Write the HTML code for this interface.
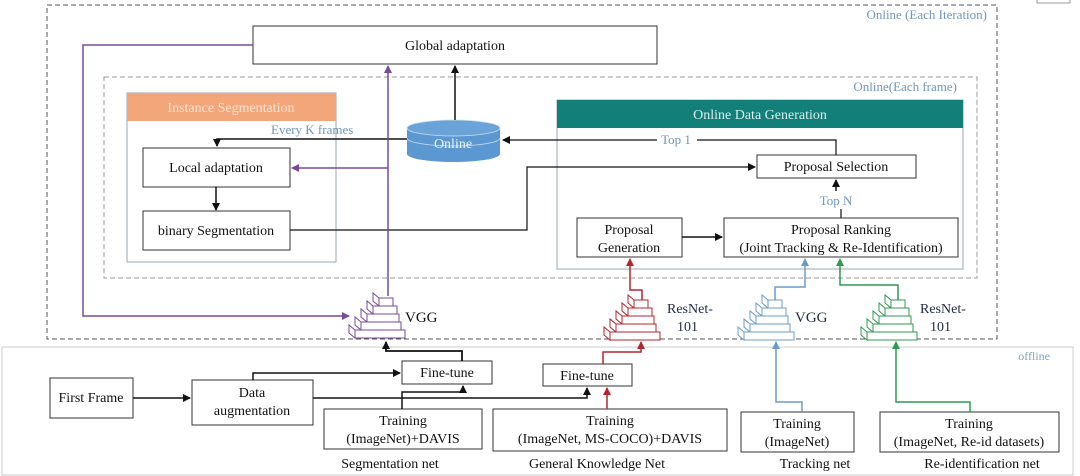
<!DOCTYPE html>
<html><head><meta charset="utf-8"><style>
html,body{margin:0;padding:0;background:#fff;}
svg{display:block;}
text{font-family:"Liberation Serif",serif;}
</style></head><body>
<svg width="1080" height="476" viewBox="0 0 1080 476" xmlns="http://www.w3.org/2000/svg">
<defs>
<marker id="ak" markerWidth="8" markerHeight="8" refX="7" refY="4" orient="auto" markerUnits="userSpaceOnUse"><path d="M0,0 L8,4 L0,8 z" fill="#111"/></marker>
<marker id="ap" markerWidth="8" markerHeight="8" refX="7" refY="4" orient="auto" markerUnits="userSpaceOnUse"><path d="M0,0 L8,4 L0,8 z" fill="#7a4a9a"/></marker>
<marker id="ar" markerWidth="8" markerHeight="8" refX="7" refY="4" orient="auto" markerUnits="userSpaceOnUse"><path d="M0,0 L8,4 L0,8 z" fill="#b3262e"/></marker>
<marker id="ab" markerWidth="8" markerHeight="8" refX="7" refY="4" orient="auto" markerUnits="userSpaceOnUse"><path d="M0,0 L8,4 L0,8 z" fill="#6a9cc8"/></marker>
<marker id="ag" markerWidth="8" markerHeight="8" refX="7" refY="4" orient="auto" markerUnits="userSpaceOnUse"><path d="M0,0 L8,4 L0,8 z" fill="#2e9a52"/></marker>
<g id="pyr" fill="#fff" stroke-width="1">
<polygon points="30,2 24,-3 24,5 30,10"/><rect x="30" y="2" width="14" height="8"/>
<polygon points="24,10 18,5 18,13 24,18"/><rect x="24" y="10" width="24" height="8"/>
<polygon points="18,18 12,13 12,21 18,26"/><rect x="18" y="18" width="32" height="8"/>
<polygon points="12,26 6,21 6,29 12,34"/><rect x="12" y="26" width="40" height="8"/>
<polygon points="6,34 0,29 0,37 6,42"/><rect x="6" y="34" width="50" height="8"/>
</g>
</defs>

<rect x="2" y="347" width="1071" height="128" fill="#fff" stroke="#ccc" stroke-width="1"/>
<text x="1050" y="360" font-size="12" fill="#7fa3c2" text-anchor="end">offline</text>

<rect x="47" y="5" width="950" height="334" fill="none" stroke="#555" stroke-dasharray="5,3" stroke-width="1"/>
<text x="987" y="19" font-size="13" fill="#6e96ba" text-anchor="end">Online (Each Iteration)</text>
<rect x="1037" y="-1" width="33" height="4" fill="none" stroke="#999"/>

<rect x="253" y="26" width="404" height="38" fill="#fff" stroke="#333"/>
<text x="455" y="50" font-size="14" text-anchor="middle" fill="#111">Global adaptation</text>

<rect x="104" y="77" width="873" height="201" fill="none" stroke="#999" stroke-dasharray="5,3"/>
<text x="957" y="91" font-size="13" fill="#6e96ba" text-anchor="end">Online(Each frame)</text>

<rect x="127" y="93" width="209" height="169" fill="#fff" stroke="#9aa7b3"/>
<rect x="127" y="93" width="209" height="28" fill="#f2a679"/>
<text x="231" y="112" font-size="14" fill="#fbe2d2" text-anchor="middle">Instance Segmentation</text>
<text x="271" y="134" font-size="13" fill="#6e96ba">Every K frames</text>
<rect x="143" y="148" width="147" height="39" fill="#fff" stroke="#333"/>
<text x="216" y="172" font-size="14" text-anchor="middle" fill="#111">Local adaptation</text>
<rect x="143" y="211" width="147" height="39" fill="#fff" stroke="#333"/>
<text x="216" y="235" font-size="14" text-anchor="middle" fill="#111">binary Segmentation</text>
<line x1="216" y1="187" x2="216" y2="210" stroke="#111" stroke-width="1.5" marker-end="url(#ak)"/>

<rect x="557" y="100" width="406" height="169" fill="#fff" stroke="#9aa7b3"/>
<rect x="557" y="100" width="406" height="28" fill="#127f78"/>
<text x="760" y="119" font-size="14" fill="#d9efee" text-anchor="middle">Online Data Generation</text>
<rect x="757" y="155" width="159" height="23" fill="#fff" stroke="#333"/>
<text x="836" y="171" font-size="14" text-anchor="middle" fill="#111">Proposal Selection</text>
<rect x="577" y="218" width="105" height="39" fill="#fff" stroke="#333"/>
<text x="629" y="234" font-size="14" text-anchor="middle" fill="#111">Proposal</text>
<text x="629" y="252" font-size="14" text-anchor="middle" fill="#111">Generation</text>
<rect x="724" y="218" width="234" height="39" fill="#fff" stroke="#333"/>
<text x="841" y="234" font-size="14" text-anchor="middle" fill="#111">Proposal Ranking</text>
<text x="841" y="252" font-size="14" text-anchor="middle" fill="#111">(Joint Tracking &amp; Re-Identification)</text>
<line x1="682" y1="237" x2="722" y2="237" stroke="#111" stroke-width="1.5" marker-end="url(#ak)"/>
<line x1="841" y1="218" x2="841" y2="209" stroke="#111" stroke-width="1.2"/>
<text x="836" y="205" font-size="13" fill="#6e96ba" text-anchor="middle">Top N</text>
<line x1="836" y1="191" x2="836" y2="180" stroke="#111" stroke-width="1.5" marker-end="url(#ak)"/>

<polyline points="836,155 836,140 697,140" fill="none" stroke="#111" stroke-width="1.2"/>
<text x="676" y="144" font-size="13" fill="#6e96ba" text-anchor="middle">Top 1</text>
<line x1="657" y1="140" x2="503" y2="140" stroke="#111" stroke-width="1.2" marker-end="url(#ak)"/>

<polyline points="290,230 527,230 527,167 755,167" fill="none" stroke="#111" stroke-width="1.2" marker-end="url(#ak)"/>

<path d="M407,128 L407,154 A46.5,8 0 0 0 500,154 L500,128 Z" fill="#5b97d0"/>
<ellipse cx="453.5" cy="128" rx="46.5" ry="8" fill="#6aa3d8" stroke="#cfe0f0" stroke-width="0.8"/>
<path d="M407,138 A46.5,8 0 0 0 500,138" fill="none" stroke="#cfe0f0" stroke-width="0.8"/>
<text x="453" y="148" font-size="14" fill="#f0f6fb" text-anchor="middle">Online</text>
<line x1="455" y1="120" x2="455" y2="66" stroke="#111" stroke-width="1.5" marker-end="url(#ak)"/>
<polyline points="407,139 217,139 217,146" fill="none" stroke="#111" stroke-width="1.5" marker-end="url(#ak)"/>

<line x1="388" y1="296" x2="388" y2="66" stroke="#7a4a9a" stroke-width="1.5" marker-end="url(#ap)"/>
<polyline points="388,168 292,168" fill="none" stroke="#7a4a9a" stroke-width="1.5" marker-end="url(#ap)"/>
<polyline points="253,45 83,45 83,316 349,316" fill="none" stroke="#7a4a9a" stroke-width="1.5" marker-end="url(#ap)"/>
<g stroke="#7a4a9a"><use href="#pyr" x="349" y="296"/></g>
<text x="405" y="322" font-size="15" fill="#111">VGG</text>

<g stroke="#b3262e"><use href="#pyr" x="604" y="298"/></g>
<polyline points="642,300 642,290 630,290 630,259" fill="none" stroke="#b3262e" stroke-width="1.5" marker-end="url(#ar)"/>
<text x="667" y="313" font-size="14" fill="#1f2a44">ResNet-</text>
<text x="677" y="331" font-size="14" fill="#1f2a44">101</text>

<g stroke="#6a9cc8"><use href="#pyr" x="738" y="298"/></g>
<polyline points="775,300 775,287 805,287 805,259" fill="none" stroke="#6a9cc8" stroke-width="1.5" marker-end="url(#ab)"/>
<text x="795" y="322" font-size="15" fill="#1f2a44">VGG</text>

<g stroke="#2e9a52"><use href="#pyr" x="861" y="298"/></g>
<polyline points="898,300 898,285 840,285 840,259" fill="none" stroke="#2e9a52" stroke-width="1.5" marker-end="url(#ag)"/>
<text x="920" y="313" font-size="14" fill="#1f2a44">ResNet-</text>
<text x="930" y="331" font-size="14" fill="#1f2a44">101</text>

<rect x="50" y="378" width="83" height="40" fill="#fff" stroke="#333"/>
<text x="91" y="402" font-size="14" text-anchor="middle" fill="#111">First Frame</text>
<rect x="192" y="380" width="121" height="45" fill="#fff" stroke="#333"/>
<text x="252" y="397" font-size="14" text-anchor="middle" fill="#111">Data</text>
<text x="252" y="415" font-size="14" text-anchor="middle" fill="#111">augmentation</text>
<rect x="402" y="361" width="90" height="23" fill="#fff" stroke="#333"/>
<text x="447" y="377" font-size="14" text-anchor="middle" fill="#111">Fine-tune</text>
<rect x="543" y="364" width="89" height="22" fill="#fff" stroke="#333"/>
<text x="587" y="380" font-size="14" text-anchor="middle" fill="#111">Fine-tune</text>

<rect x="324" y="409" width="158" height="40" fill="#fff" stroke="#333"/>
<text x="403" y="425" font-size="14" text-anchor="middle" fill="#111">Training</text>
<text x="403" y="443" font-size="14" text-anchor="middle" fill="#111">(ImageNet)+DAVIS</text>
<rect x="493" y="409" width="234" height="42" fill="#fff" stroke="#333"/>
<text x="610" y="425" font-size="14" text-anchor="middle" fill="#111">Training</text>
<text x="610" y="443" font-size="14" text-anchor="middle" fill="#111">(ImageNet, MS-COCO)+DAVIS</text>
<rect x="741" y="412" width="113" height="40" fill="#fff" stroke="#333"/>
<text x="797" y="428" font-size="14" text-anchor="middle" fill="#111">Training</text>
<text x="797" y="446" font-size="14" text-anchor="middle" fill="#111">(ImageNet)</text>
<rect x="880" y="412" width="179" height="40" fill="#fff" stroke="#333"/>
<text x="969" y="428" font-size="14" text-anchor="middle" fill="#111">Training</text>
<text x="969" y="446" font-size="14" text-anchor="middle" fill="#111">(ImageNet, Re-id datasets)</text>

<text x="390" y="468" font-size="14" text-anchor="middle" fill="#111">Segmentation net</text>
<text x="597" y="468" font-size="14" text-anchor="middle" fill="#111">General Knowledge Net</text>
<text x="815" y="468" font-size="14" text-anchor="middle" fill="#111">Tracking net</text>
<text x="982" y="468" font-size="14" text-anchor="middle" fill="#111">Re-identification net</text>

<line x1="133" y1="398" x2="190" y2="398" stroke="#111" stroke-width="1.5" marker-end="url(#ak)"/>
<polyline points="253,380 253,373 400,373" fill="none" stroke="#111" stroke-width="1.5" marker-end="url(#ak)"/>
<polyline points="313,398 587,398 587,388" fill="none" stroke="#111" stroke-width="1.5" marker-end="url(#ak)"/>
<polyline points="402,409 402,392 463,392 463,386" fill="none" stroke="#111" stroke-width="1.5" marker-end="url(#ak)"/>
<polyline points="462,361 462,351 386,351 386,342" fill="none" stroke="#111" stroke-width="1.8" marker-end="url(#ak)"/>
<polyline points="607,409 607,388" fill="none" stroke="#b3262e" stroke-width="1.5" marker-end="url(#ar)"/>
<polyline points="603,364 603,352 641,352 641,342" fill="none" stroke="#b3262e" stroke-width="1.5" marker-end="url(#ar)"/>
<polyline points="802,412 802,402 776,402 776,342" fill="none" stroke="#6a9cc8" stroke-width="1.5" marker-end="url(#ab)"/>
<polyline points="970,412 970,402 896,402 896,342" fill="none" stroke="#2e9a52" stroke-width="1.5" marker-end="url(#ag)"/>
</svg>
</body></html>
